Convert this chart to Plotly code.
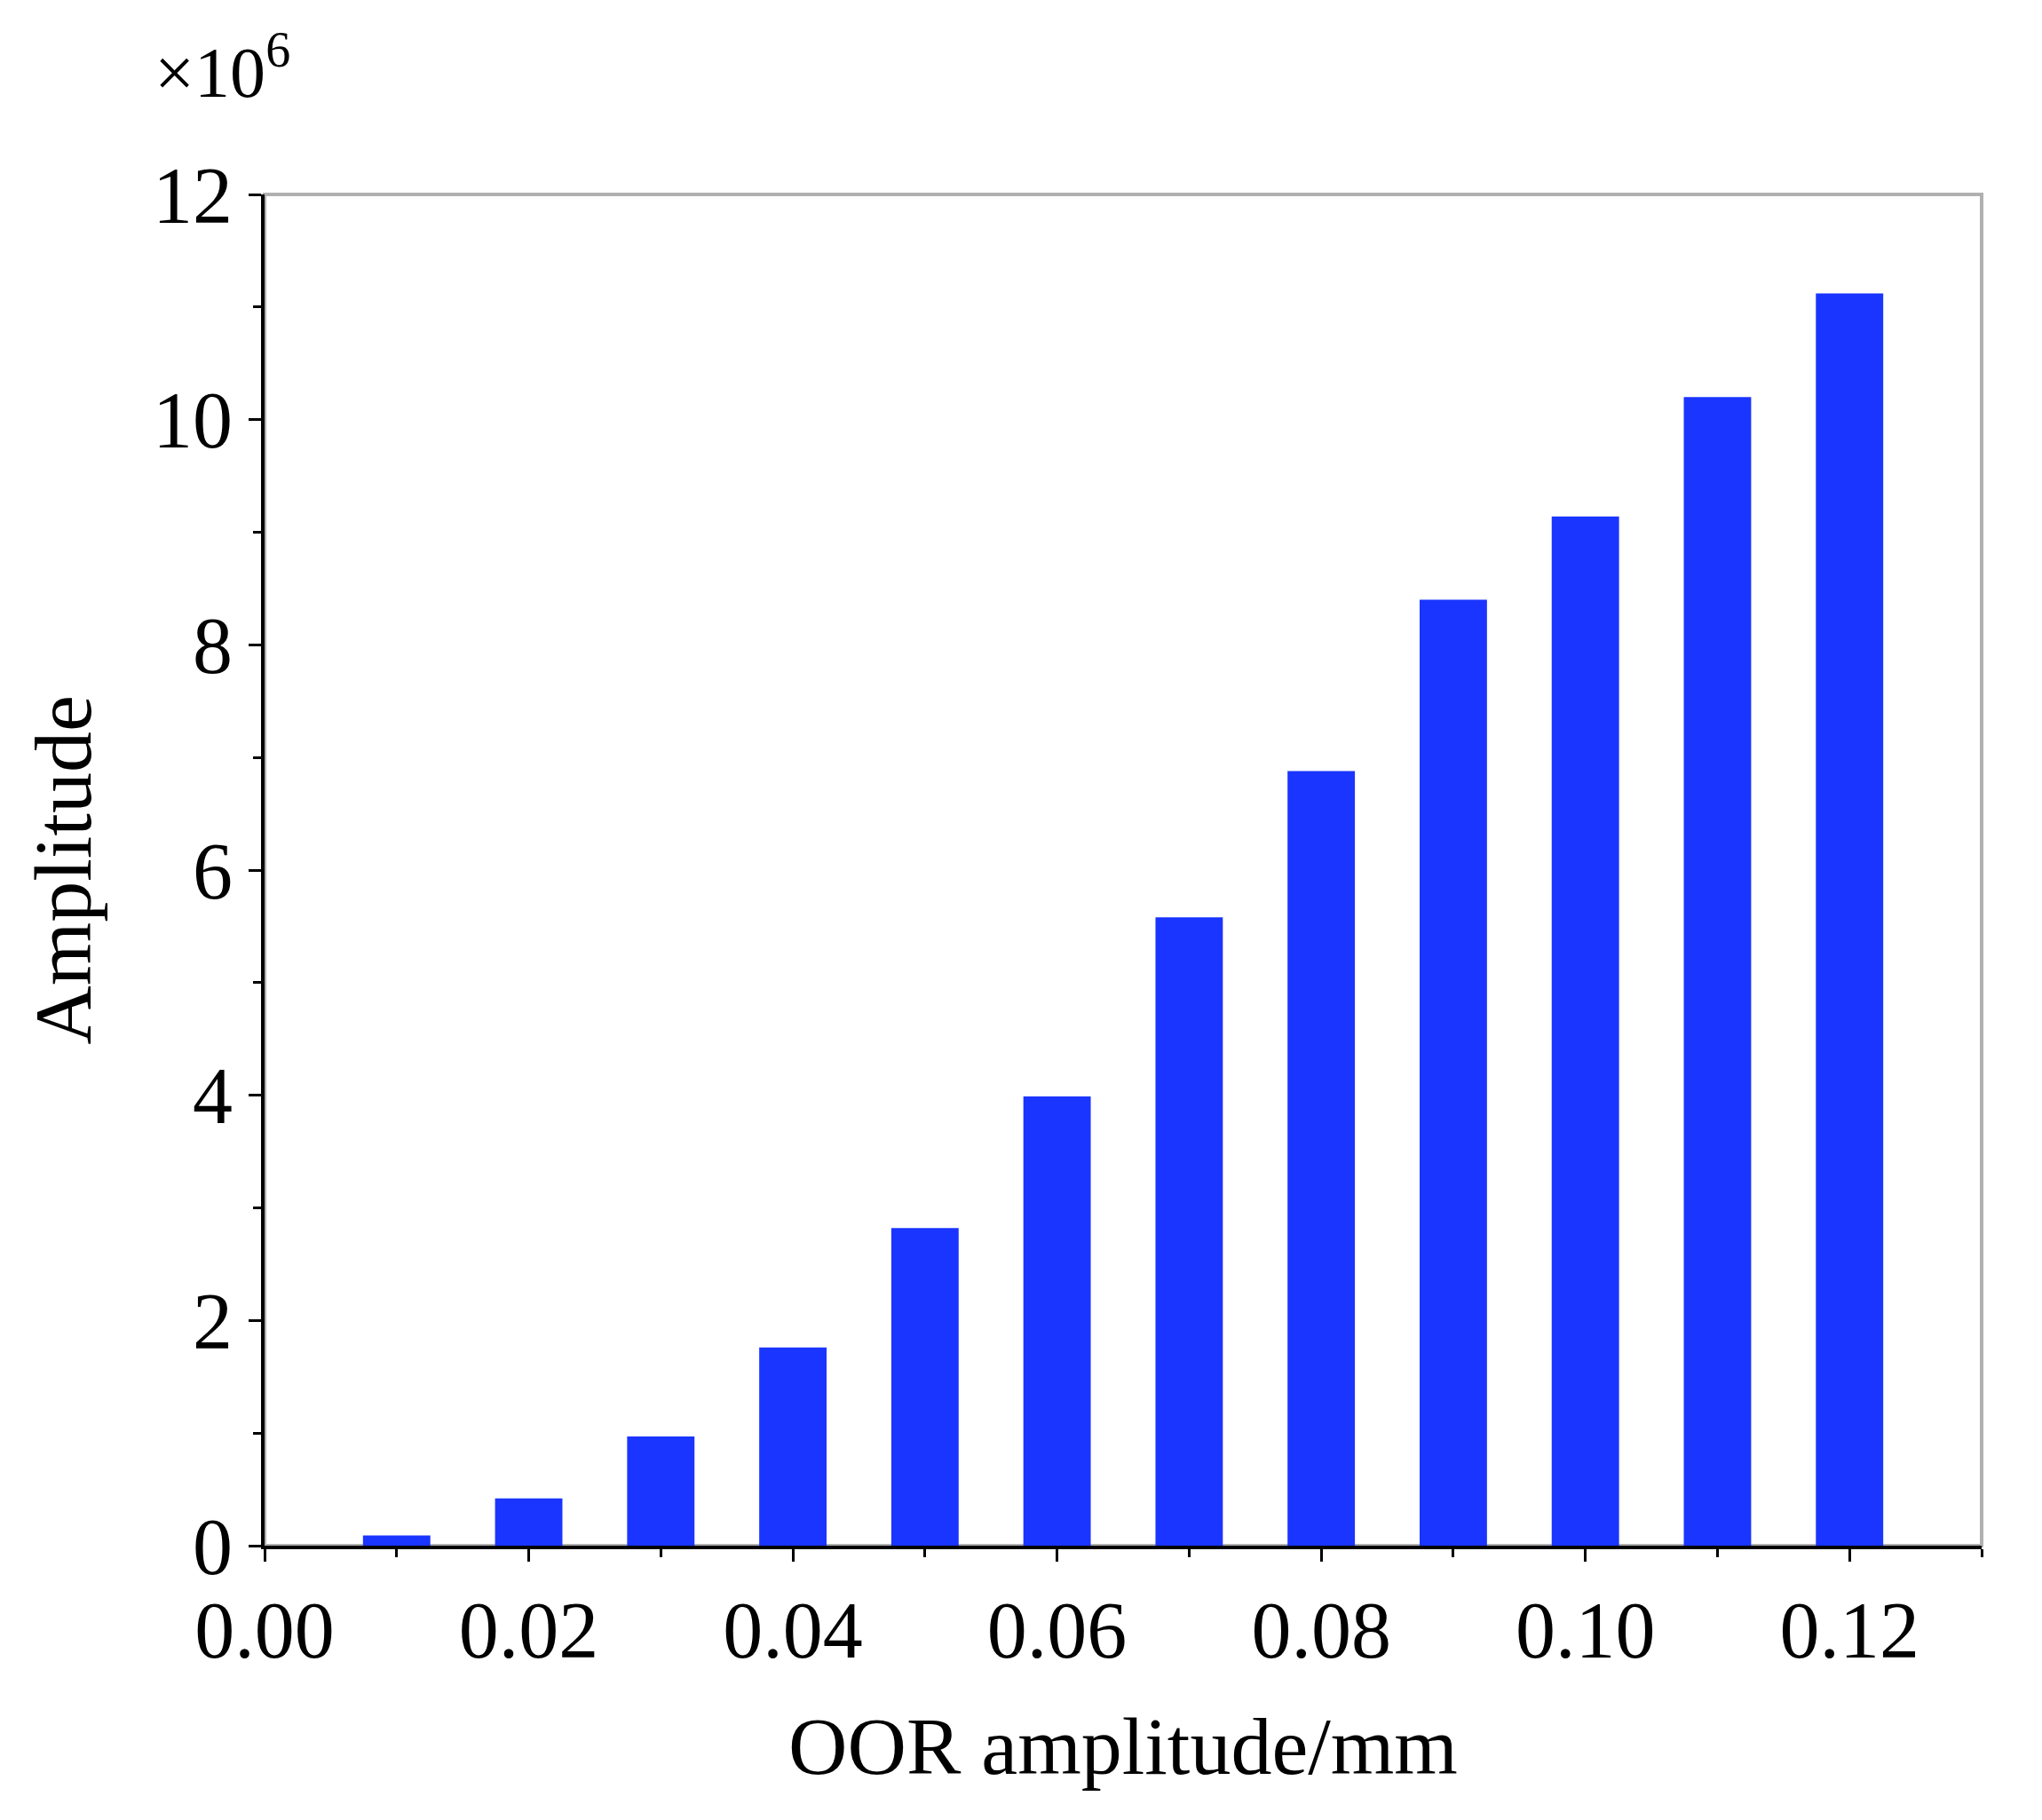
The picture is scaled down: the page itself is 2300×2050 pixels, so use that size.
import plotly.graph_objects as go

# OOR amplitude (mm) and response amplitude (x1e6)
oorAmplitude = [0.01, 0.02, 0.03, 0.04, 0.05, 0.06, 0.07, 0.08, 0.09, 0.10, 0.11, 0.12]
amplitude = [0.09, 0.42, 0.97, 1.76, 2.82, 3.99, 5.58, 6.88, 8.40, 9.14, 10.20, 11.12]

xTicks = [0.00, 0.02, 0.04, 0.06, 0.08, 0.10, 0.12]
xTickText = ["0.00", "0.02", "0.04", "0.06", "0.08", "0.10", "0.12"]
yTicks = [0, 2, 4, 6, 8, 10, 12]

font = "Liberation Serif"

fig = go.Figure()
fig.add_trace(go.Bar(x=oorAmplitude, y=amplitude, width=0.0051,
                     marker=dict(color="#1a35ff", line=dict(width=0))))

# grey frame for top/right edges
fig.add_shape(type="rect", xref="paper", yref="paper", x0=0, y0=0, x1=1, y1=1,
              line=dict(color="#b0b0b0", width=4), layer="below")

fig.update_layout(
    width=2300, height=2050,
    plot_bgcolor="white", paper_bgcolor="white",
    margin=dict(l=290, r=76, t=211, b=317),
    showlegend=False,
    font=dict(family=font, color="black", size=90),
    xaxis=dict(range=[0, 0.13], tickvals=xTicks, ticktext=xTickText,
               ticks="outside", ticklen=14, tickwidth=3, tickcolor="black",
               showline=True, linecolor="black", linewidth=4, showgrid=False,
               zeroline=False, tickfont=dict(size=90),
               minor=dict(tickvals=[0.01, 0.03, 0.05, 0.07, 0.09, 0.11, 0.13],
                          ticks="outside", ticklen=9, tickwidth=3, tickcolor="black"),
               title=dict(text="OOR amplitude/mm", font=dict(size=92), standoff=50)),
    yaxis=dict(range=[0, 12], tickvals=yTicks,
               ticks="outside", ticklen=14, tickwidth=3, tickcolor="black",
               showline=True, linecolor="black", linewidth=4, showgrid=False,
               zeroline=False, tickfont=dict(size=90),
               minor=dict(tickvals=[1, 3, 5, 7, 9, 11],
                          ticks="outside", ticklen=9, tickwidth=3, tickcolor="black"),
               title=dict(text="Amplitude", font=dict(size=92), standoff=40)),
)

fig.add_annotation(text="×10<sup>6</sup>", xref="paper", yref="paper",
                   x=-0.065, y=1.06, xanchor="left", yanchor="bottom",
                   showarrow=False, font=dict(size=80, family=font))

fig.write_html("out.html")
